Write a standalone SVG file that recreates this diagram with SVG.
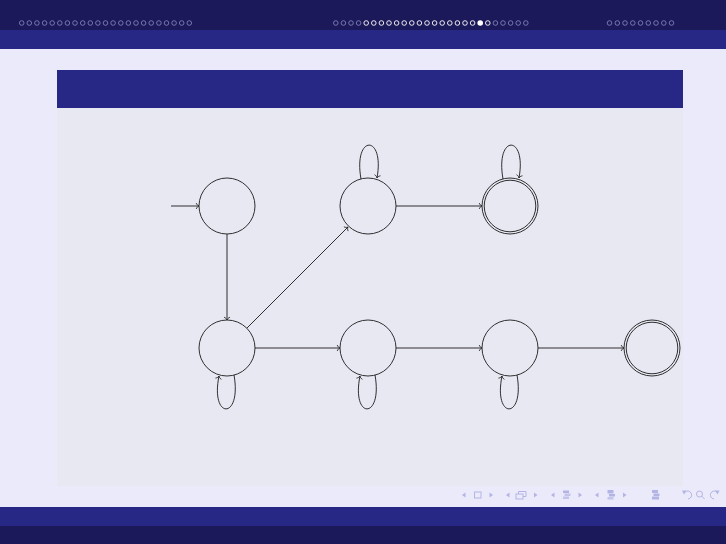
<svg xmlns="http://www.w3.org/2000/svg" width="726" height="544" viewBox="0 0 726 544">
<defs>
<style>
.st{fill:none;stroke:#1a1a1a;stroke-width:0.9}
.ed{fill:none;stroke:#1a1a1a;stroke-width:0.9;marker-end:url(#ar)}
.dd{fill:none;stroke:#8a8ac0;stroke-width:0.8}
.dw{fill:none;stroke:#ffffff;stroke-width:0.9}
.nv{fill:#b4b4e4;stroke:none}
.nvs{fill:none;stroke:#b4b4e4;stroke-width:1}
</style>
<marker id="ar" markerUnits="userSpaceOnUse" markerWidth="10" markerHeight="10" viewBox="-5 -5 10 10" refX="0" refY="0" orient="auto">
<path d="M -2.8,-3 C -2.2,-1.2 -0.9,-0.35 0,0 C -0.9,0.35 -2.2,1.2 -2.8,3" fill="none" stroke="#1a1a1a" stroke-width="0.8"/>
</marker>
</defs>
<rect x="0" y="0" width="726" height="544" fill="#eaeafb"/>
<g id="header">
<rect x="0" y="0" width="726" height="30" fill="#1b1959"/>
<rect x="0" y="30" width="726" height="19" fill="#272785"/>
<g id="dots-left">
<circle class="dd" cx="21.7" cy="23" r="2.3"/><circle class="dd" cx="29.3" cy="23" r="2.3"/><circle class="dd" cx="36.9" cy="23" r="2.3"/><circle class="dd" cx="44.6" cy="23" r="2.3"/><circle class="dd" cx="52.2" cy="23" r="2.3"/><circle class="dd" cx="59.8" cy="23" r="2.3"/><circle class="dd" cx="67.4" cy="23" r="2.3"/><circle class="dd" cx="75.0" cy="23" r="2.3"/><circle class="dd" cx="82.7" cy="23" r="2.3"/><circle class="dd" cx="90.3" cy="23" r="2.3"/><circle class="dd" cx="97.9" cy="23" r="2.3"/><circle class="dd" cx="105.5" cy="23" r="2.3"/><circle class="dd" cx="113.1" cy="23" r="2.3"/><circle class="dd" cx="120.8" cy="23" r="2.3"/><circle class="dd" cx="128.4" cy="23" r="2.3"/><circle class="dd" cx="136.0" cy="23" r="2.3"/><circle class="dd" cx="143.6" cy="23" r="2.3"/><circle class="dd" cx="151.2" cy="23" r="2.3"/><circle class="dd" cx="158.9" cy="23" r="2.3"/><circle class="dd" cx="166.5" cy="23" r="2.3"/><circle class="dd" cx="174.1" cy="23" r="2.3"/><circle class="dd" cx="181.7" cy="23" r="2.3"/><circle class="dd" cx="189.3" cy="23" r="2.3"/>
</g>
<g id="dots-mid">
<circle class="dd" cx="335.8" cy="23" r="2.3"/><circle class="dd" cx="343.4" cy="23" r="2.3"/><circle class="dd" cx="351.0" cy="23" r="2.3"/><circle class="dd" cx="358.6" cy="23" r="2.3"/>
<circle class="dw" cx="366.2" cy="23" r="2.3"/><circle class="dw" cx="373.8" cy="23" r="2.3"/><circle class="dw" cx="381.4" cy="23" r="2.3"/><circle class="dw" cx="389.0" cy="23" r="2.3"/><circle class="dw" cx="396.6" cy="23" r="2.3"/><circle class="dw" cx="404.2" cy="23" r="2.3"/><circle class="dw" cx="411.8" cy="23" r="2.3"/><circle class="dw" cx="419.4" cy="23" r="2.3"/><circle class="dw" cx="427.0" cy="23" r="2.3"/><circle class="dw" cx="434.6" cy="23" r="2.3"/><circle class="dw" cx="442.2" cy="23" r="2.3"/><circle class="dw" cx="449.8" cy="23" r="2.3"/><circle class="dw" cx="457.4" cy="23" r="2.3"/><circle class="dw" cx="465.0" cy="23" r="2.3"/><circle class="dw" cx="472.6" cy="23" r="2.3"/>
<circle cx="480.2" cy="23" r="2.8" fill="#ffffff"/>
<circle class="dw" cx="487.8" cy="23" r="2.3"/>
<circle class="dd" cx="495.4" cy="23" r="2.3"/><circle class="dd" cx="503.0" cy="23" r="2.3"/><circle class="dd" cx="510.6" cy="23" r="2.3"/><circle class="dd" cx="518.2" cy="23" r="2.3"/><circle class="dd" cx="525.8" cy="23" r="2.3"/>
</g>
<g id="dots-right">
<circle class="dd" cx="609.5" cy="23" r="2.3"/><circle class="dd" cx="617.3" cy="23" r="2.3"/><circle class="dd" cx="625.0" cy="23" r="2.3"/><circle class="dd" cx="632.8" cy="23" r="2.3"/><circle class="dd" cx="640.5" cy="23" r="2.3"/><circle class="dd" cx="648.3" cy="23" r="2.3"/><circle class="dd" cx="656.0" cy="23" r="2.3"/><circle class="dd" cx="663.8" cy="23" r="2.3"/><circle class="dd" cx="671.5" cy="23" r="2.3"/>
</g>
</g>
<g id="block">
<rect x="57" y="70" width="626" height="38" fill="#272785"/>
<rect x="57" y="108" width="626" height="378" fill="#e8e8f3"/>
</g>
<g id="connectors">
<line class="ed" x1="171" y1="206" x2="199" y2="206"/>
<line class="ed" x1="227" y1="234" x2="227" y2="320"/>
<line class="ed" x1="247" y1="328" x2="348" y2="227"/>
<line class="ed" x1="396" y1="206" x2="482" y2="206"/>
<line class="ed" x1="255" y1="348" x2="340" y2="348"/>
<line class="ed" x1="396" y1="348" x2="482" y2="348"/>
<line class="ed" x1="538" y1="348" x2="624" y2="348"/>
<path class="ed" d="M 361,179 C 353,134 385,134 377,178"/>
<path class="ed" d="M 503,179 C 495,134 527,134 519,178"/>
<path class="ed" d="M 234,375 C 242,420 210,420 219,376"/>
<path class="ed" d="M 375,375 C 383,420 351,420 360,376"/>
<path class="ed" d="M 517,375 C 525,420 493,420 502,376"/>
</g>
<g id="q0"><circle class="st" cx="227" cy="206" r="28"/></g>
<g id="q1"><circle class="st" cx="368" cy="206" r="28"/></g>
<g id="q2"><circle class="st" cx="510" cy="206" r="28"/><circle class="st" cx="510" cy="206" r="25.8"/></g>
<g id="q3"><circle class="st" cx="227" cy="348" r="28"/></g>
<g id="q4"><circle class="st" cx="368" cy="348" r="28"/></g>
<g id="q5"><circle class="st" cx="510" cy="348" r="28"/></g>
<g id="q6"><circle class="st" cx="652" cy="348" r="28"/><circle class="st" cx="652" cy="348" r="25.8"/></g>
<g id="footer">
<rect x="0" y="507" width="726" height="19" fill="#272785"/>
<rect x="0" y="526" width="726" height="18" fill="#1b1959"/>
</g>
<g id="nav">
<path class="nv" d="M 465.5,492.5 L 462,495 L 465.5,497.5 Z"/>
<rect class="nvs" x="474.5" y="492" width="6.5" height="6"/>
<path class="nv" d="M 489.5,492.5 L 493,495 L 489.5,497.5 Z"/>
<path class="nv" d="M 509.5,492.5 L 506,495 L 509.5,497.5 Z"/>
<rect class="nvs" x="516" y="494" width="7" height="5"/>
<path class="nvs" d="M 518.5,494 V 491.5 H 526 V 496.5 H 523"/>
<path class="nv" d="M 534,492.5 L 537.5,495 L 534,497.5 Z"/>
<path class="nv" d="M 554.5,492.5 L 551,495 L 554.5,497.5 Z"/>
<rect class="nv" x="563" y="490.5" width="6" height="2.5"/><rect class="nv" x="564.5" y="493.5" width="6" height="2.5" opacity="0.7"/><rect class="nv" x="563" y="496.5" width="6" height="2.5" opacity="0.7"/>
<path class="nv" d="M 578.5,492.5 L 582,495 L 578.5,497.5 Z"/>
<path class="nv" d="M 598.5,492.5 L 595,495 L 598.5,497.5 Z"/>
<rect class="nv" x="607.5" y="490" width="6" height="3.5"/><rect class="nv" x="609" y="494" width="6" height="2.5"/><rect class="nv" x="607.5" y="497" width="6" height="2.5" opacity="0.7"/>
<path class="nv" d="M 623,492.5 L 626.5,495 L 623,497.5 Z"/>
<rect class="nv" x="652" y="490" width="6" height="3"/><rect class="nv" x="653.5" y="493.5" width="6" height="2.5"/><rect class="nv" x="652" y="496.5" width="7" height="3"/>
<path class="nvs" d="M 685,492 A 4,4 0 1 1 688,499" /><path class="nv" d="M 682,490.5 L 686.5,490.5 L 684,494.5 Z"/>
<circle class="nvs" cx="699.5" cy="494" r="3"/><line class="nvs" x1="701.5" y1="496" x2="704.5" y2="499"/>
<path class="nvs" d="M 717,492 A 4,4 0 1 0 714,499"/><path class="nv" d="M 719.5,490.5 L 715,490.5 L 717.5,494.5 Z"/>
</g>
</svg>
